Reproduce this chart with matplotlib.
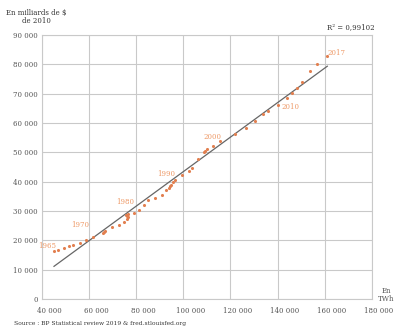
import matplotlib
matplotlib.use("Agg")
import matplotlib.pyplot as plt
import matplotlib.transforms as mtransforms
import numpy as np

# world primary energy consumption (TWh) vs world GDP (billions of 2010 $), 1965-2017
years = list(range(1965, 2018))
energy = [45100, 47000, 49400, 51500, 53300, 56200, 58600, 61800, 65800, 66200,
          66600, 69700, 72500, 74600, 76200, 76700, 76100, 75800, 76600, 78900,
          81000, 83100, 84800, 88100, 90900, 92800, 93700, 94300, 94800, 95600,
          96600, 99400, 102300, 103700, 106100, 108600, 109100, 110100, 112600, 115700,
          122100, 126400, 130300, 133900, 135900, 140100, 144100, 146200, 148400, 150500,
          153700, 156600, 161100]
gdp = [16200, 16700, 17300, 18000, 18400, 19200, 20000, 21000, 22600, 22900,
       23100, 24400, 25300, 26300, 27300, 27900, 28300, 28600, 29000, 29400,
       30300, 32200, 33700, 34500, 35600, 37000, 37900, 38500, 38900, 39800,
       40700, 42400, 43500, 44600, 47700, 50000, 50500, 51200, 52300, 53700,
       56200, 58200, 60800, 63100, 64100, 66300, 68400, 70100, 71800, 74000,
       77700, 80200, 82700]
labelled_years = [1965, 1970, 1980, 1990, 2000, 2010, 2017]
r2_text = "R² = 0,99102"

orange = "#e27f4f"
grey_txt = "#555555"
grid_col = "#c9c9c9"
serif = "DejaVu Serif"

fig = plt.figure(figsize=(3.96, 3.29), dpi=100)
ax = fig.add_axes([0.106, 0.0912, 0.833, 0.8024])

x = np.array(energy, dtype=float)
y = np.array(gdp, dtype=float)

# linear trend over the data range
a, b = np.polyfit(x, y, 1)
xs = np.array([x.min(), x.max()])
ax.plot(xs, a * xs + b, color="#666666", lw=0.9, zorder=2)

ax.scatter(x, y, s=5, color=orange, linewidths=0, zorder=3)

# year labels next to their points
label_off = {1965: (-3000, 1800), 1970: (0, 5900), 1980: (-1400, 5000),
             1990: (0, 5700), 2000: (3800, 5300), 2010: (5500, -900),
             2017: (3700, 1000)}
for yr in labelled_years:
    i = years.index(yr)
    dx, dy = label_off[yr]
    ax.text(energy[i] + dx, gdp[i] + dy, str(yr), color="#ee9a68",
            fontsize=5, family=serif, ha="center", va="center", zorder=4)

ax.set_xlim(40000, 180000)
ax.set_ylim(0, 90000)
ax.set_xticks(np.arange(40000, 180001, 20000))
ax.set_yticks(np.arange(0, 90001, 10000))
fmt = lambda v: f"{int(v):,}".replace(",", " ")
ax.set_xticklabels([fmt(v) for v in ax.get_xticks()])
ax.set_yticklabels([fmt(v) for v in ax.get_yticks()])
ax.tick_params(length=0, labelsize=5, labelcolor=grey_txt)
ax.tick_params(axis="x", pad=6)
ax.tick_params(axis="y", pad=3)
for lbl in ax.get_xticklabels() + ax.get_yticklabels():
    lbl.set_family(serif)
shift = mtransforms.ScaledTranslation(7 / 100, 0, fig.dpi_scale_trans)
for lbl in ax.get_xticklabels():
    lbl.set_transform(lbl.get_transform() + shift)

ax.grid(True, color=grid_col, lw=0.8)
ax.set_axisbelow(True)
for sp in ax.spines.values():
    sp.set_color(grid_col)
    sp.set_linewidth(0.8)

fig.text(36 / 396, 1 - 17 / 329, "En milliards de $\nde 2010", ha="center",
         va="center", fontsize=5, family=serif, color="#333333", linespacing=1.1)
fig.text(375 / 396, 1 - 27 / 329, r2_text, ha="right", va="center",
         fontsize=5, family=serif, color="#333333")
fig.text(386 / 396, 1 - 295 / 329, "En\nTWh", ha="center", va="center",
         fontsize=5, family=serif, color=grey_txt, linespacing=1.0)
fig.text(14 / 396, 1 - 323 / 329,
         "Source : BP Statistical review 2019 & fred.stlouisfed.org",
         ha="left", va="center", fontsize=4.3, family=serif, color="#333333")

fig.savefig("out.png", dpi=100)
